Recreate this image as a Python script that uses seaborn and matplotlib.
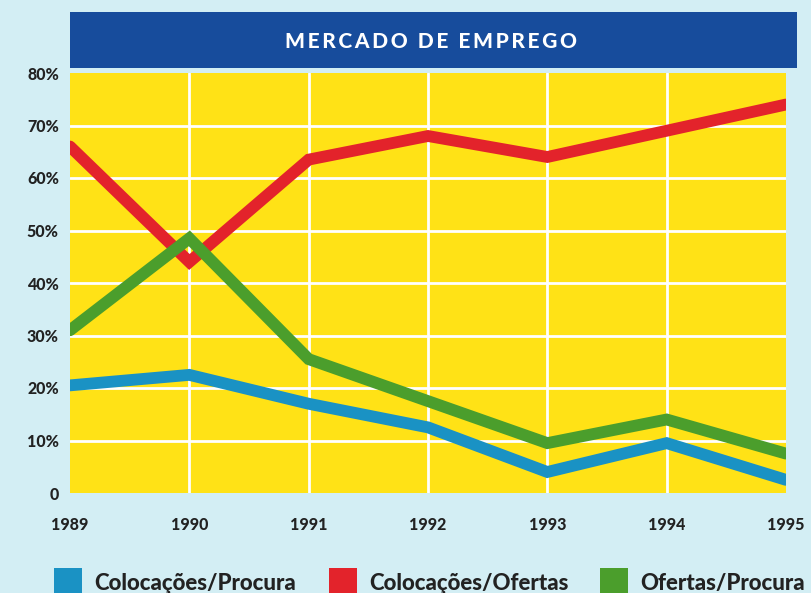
import matplotlib
matplotlib.use("Agg")
import matplotlib.pyplot as plt
from matplotlib.patches import Rectangle, Patch
import numpy as np
import pandas as pd
import seaborn as sns

# values (percent)
years = [1989, 1990, 1991, 1992, 1993, 1994, 1995]
colocacoes_procura = [20.5, 22.5, 17.0, 12.5, 4.0, 9.5, 2.5]
colocacoes_ofertas = [66.0, 44.0, 63.5, 68.0, 64.0, 69.0, 74.0]
ofertas_procura = [31.0, 48.5, 25.5, 17.5, 9.5, 14.0, 7.5]

series_names = ["Colocações/Procura", "Colocações/Ofertas", "Ofertas/Procura"]
series_colors = ["#1a92c4", "#e3232b", "#4b9e2c"]
y_ticks = [0, 10, 20, 30, 40, 50, 60, 70, 80]
y_labels = ["0", "10%", "20%", "30%", "40%", "50%", "60%", "70%", "80%"]

df = pd.DataFrame({
    "ano": years * 3,
    "valor": colocacoes_procura + colocacoes_ofertas + ofertas_procura,
    "serie": [s for s in series_names for _ in years],
})

sns.set_theme(style="white")
plt.rcParams["font.family"] = ["Lato", "DejaVu Sans"]

bg = "#d3eef4"
fig = plt.figure(figsize=(8.11, 5.93), dpi=100, facecolor=bg)
ax = fig.add_axes([70 / 811, 100 / 593, 716 / 811, 420 / 593])
ax.set_facecolor("#ffe216")

# white grid
for y in y_ticks[1:-1]:
    ax.axhline(y, color="white", lw=2, zorder=1)
for x in years[1:-1]:
    ax.axvline(x, color="white", lw=2, zorder=1)

sns.lineplot(data=df, x="ano", y="valor", hue="serie", hue_order=series_names,
             palette=series_colors, linewidth=8.5, legend=False, ax=ax, zorder=3,
             solid_joinstyle="miter")

ax.set_xlim(years[0], years[-1])
ax.set_ylim(0, 80)
ax.set_xticks(years)
ax.set_xticklabels([str(y) for y in years])
ax.set_yticks(y_ticks)
ax.set_yticklabels(y_labels)
ax.tick_params(length=0, labelsize=11.5, colors="#222222", pad=8)
ax.tick_params(axis="x", pad=17)
for lab in ax.get_xticklabels() + ax.get_yticklabels():
    lab.set_fontweight("black")
ax.set_xlabel("")
ax.set_ylabel("")
for s in ax.spines.values():
    s.set_visible(False)

# title banner
fig.patches.append(Rectangle((70 / 811, (593 - 68) / 593), 727 / 811, 56 / 593,
                             transform=fig.transFigure, facecolor="#174c9c",
                             edgecolor="none", zorder=0))
title = "  ".join("\u2009".join(w) for w in ["MERCADO", "DE", "EMPREGO"])
fig.text(431 / 811, (593 - 42) / 593, title,
         color="white", fontsize=15, fontweight="black", ha="center", va="center")

# legend, one entry per column position as in the reference
legend_x = [38, 313, 584]
for name, color, lx in zip(series_names, series_colors, legend_x):
    leg = fig.legend([Patch(facecolor=color, edgecolor="none")], [name],
                     loc="lower left", bbox_to_anchor=(lx / 811, -0.035),
                     frameon=False, handlelength=1.3, handleheight=1.7,
                     handletextpad=0.55, borderpad=0.2,
                     prop={"size": 16, "weight": "black"})
    for t in leg.get_texts():
        t.set_color("#222222")

fig.savefig("out.png", dpi=100, facecolor=bg)
